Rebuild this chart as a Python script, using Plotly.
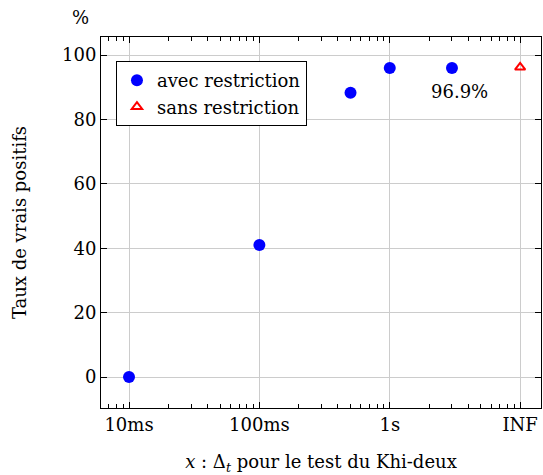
import math
import plotly.graph_objects as go

x_avec = [0.01, 0.1, 0.5, 1, 3]
y_avec = [0, 41.0, 88.3, 96.0, 96.0]
x_sans = [10]
y_sans = [96.2]
tick_vals = [0.01, 0.1, 1, 10]
tick_text = ["10ms", "100ms", "1s", "INF"]
y_ticks = [0, 20, 40, 60, 80, 100]
label_text = "96.9%"

FONT = "DejaVu Serif, Liberation Serif, serif"
FS = 18

fig = go.Figure()
fig.add_trace(go.Scatter(x=x_avec, y=y_avec, mode="markers", name="avec restriction",
                         marker=dict(color="#0000ff", size=12, symbol="circle")))
fig.add_trace(go.Scatter(x=x_sans, y=y_sans, mode="markers", name="sans restriction",
                         marker=dict(color="#ff0000", size=9, symbol="triangle-up-open",
                                     line=dict(width=2, color="#ff0000"))))

fig.add_annotation(x=math.log10(x_avec[-1]), y=y_avec[-1], xref="x", yref="y", text=label_text,
                   showarrow=False, yshift=-24, xshift=8,
                   font=dict(family=FONT, size=FS, color="black"))
fig.add_annotation(x=0, y=1, xref="paper", yref="paper", text="%", showarrow=False,
                   xanchor="right", yanchor="bottom", xshift=-10, yshift=7,
                   font=dict(family=FONT, size=FS, color="black"))

fig.update_layout(
    width=543, height=475,
    margin=dict(l=101, r=2, t=37, b=67),
    paper_bgcolor="white", plot_bgcolor="white",
    font=dict(family=FONT, size=FS, color="black"),
    showlegend=True,
    legend=dict(x=0.034, y=0.935, xanchor="left", yanchor="top",
                bordercolor="black", borderwidth=1, bgcolor="white",
                font=dict(family=FONT, size=FS), itemwidth=30, tracegroupgap=0),
)
fig.update_xaxes(
    type="log", range=[-2.215, 1.16], automargin=False,
    tickvals=tick_vals, ticktext=tick_text,
    showgrid=True, gridcolor="#cccccc", gridwidth=1,
    showline=True, linecolor="black", linewidth=1, mirror="ticks",
    ticks="inside", ticklen=6, tickcolor="black",
    minor=dict(ticks="inside", ticklen=4, tickcolor="black", dtick="D1", showgrid=False),
    zeroline=False,
    title=dict(text="<i>x</i> : Δ<sub><i>t</i></sub> pour le test du Khi-deux",
               font=dict(family=FONT, size=FS), standoff=22),
    tickfont=dict(family=FONT, size=FS),
)
fig.update_yaxes(
    range=[-9.6, 105.6], tickvals=y_ticks, automargin=False,
    showgrid=True, gridcolor="#cccccc", gridwidth=1,
    showline=True, linecolor="black", linewidth=1, mirror="ticks",
    ticks="inside", ticklen=6, tickcolor="black",
    zeroline=False,
    title=dict(text="Taux de vrais positifs", font=dict(family=FONT, size=FS), standoff=30),
    tickfont=dict(family=FONT, size=FS),
)

fig.write_html("out.html", config={"displayModeBar": False},
               post_script="document.body.style.margin='0';document.body.style.overflow='hidden';")
